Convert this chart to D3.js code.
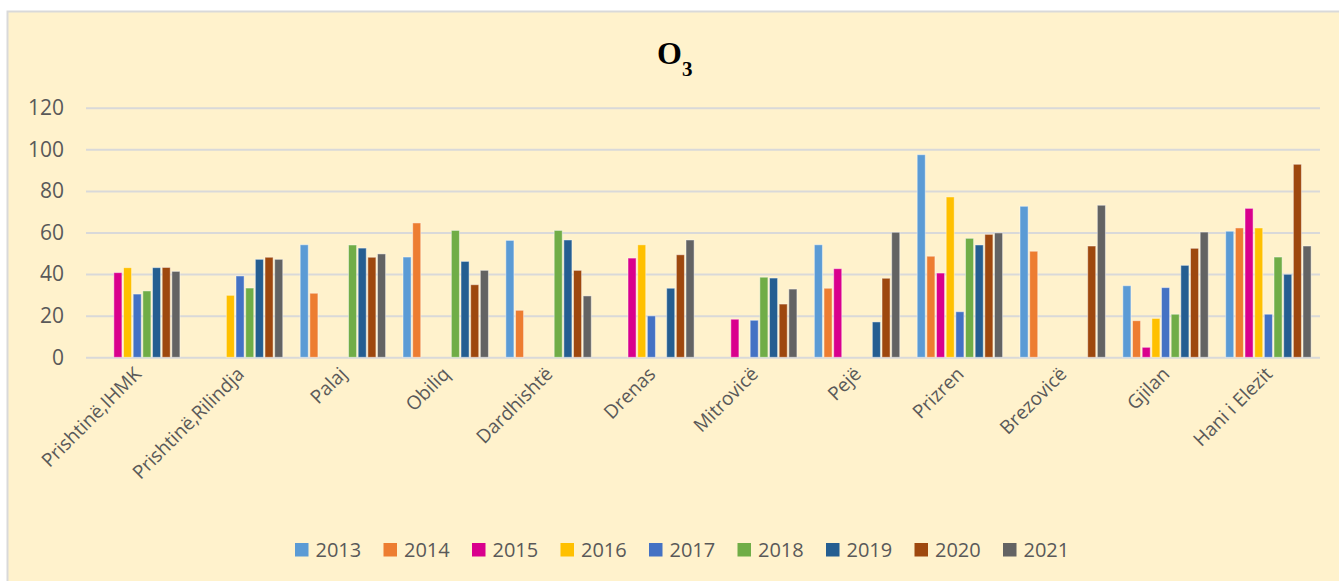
<!DOCTYPE html>
<html>
<head>
<meta charset="utf-8">
<script src="https://cdn.jsdelivr.net/npm/d3@7"></script>
<style>
  html, body { margin: 0; padding: 0; background: #ffffff; }
  svg { display: block; }
</style>
</head>
<body>
<svg id="chart" width="1339" height="581"></svg>
<script>
// ---------- DATA ----------
const categories = ["Prishtinë,IHMK", "Prishtinë,Rilindja", "Palaj", "Obiliq", "Dardhishtë", "Drenas",
                    "Mitrovicë", "Pejë", "Prizren", "Brezovicë", "Gjilan", "Hani i Elezit"];
const years = ["2013", "2014", "2015", "2016", "2017", "2018", "2019", "2020", "2021"];
const colors = ["#5B9BD5", "#ED7D31", "#D9008D", "#FFC000", "#4472C4", "#70AD47", "#255E91", "#9E480E", "#636363"];
// values per year, one entry per category (null = no data)
const v2013 = [null, null, 54.1, 48.2, 56.2, null, null, 54.1, 97.4, 72.6, 34.4, 60.6];
const v2014 = [null, null, 30.8, 64.6, 22.6, null, null, 33.2, 48.6, 51.0, 17.6, 62.2];
const v2015 = [40.7, null, null, null, null, 47.7, 18.3, 42.6, 40.5, null, 4.8, 71.6];
const v2016 = [43.1, 29.8, null, null, null, 54.1, null, null, 77.1, null, 18.7, 62.2];
const v2017 = [30.4, 39.1, null, null, null, 19.9, 17.8, null, 21.9, null, 33.5, 20.7];
const v2018 = [31.9, 33.3, 54.0, 61.0, 61.0, null, 38.5, null, 57.2, null, 20.7, 48.2];
const v2019 = [43.1, 47.1, 52.5, 46.1, 56.4, 33.2, 38.1, 17.0, 54.0, null, 44.2, 39.9];
const v2020 = [43.2, 48.1, 48.1, 34.9, 41.8, 49.3, 25.6, 38.0, 59.1, 53.5, 52.4, 92.8];
const v2021 = [41.3, 47.1, 49.7, 41.8, 29.5, 56.4, 32.8, 60.1, 59.8, 73.1, 60.2, 53.5];
const yTicks = [0, 20, 40, 60, 80, 100, 120];
const seriesValues = [v2013, v2014, v2015, v2016, v2017, v2018, v2019, v2020, v2021];

// ---------- LAYOUT ----------
const svg = d3.select("#chart");
const W = 1339, H = 581;
const plot = { left: 86, right: 1320, top: 107.7, bottom: 357.3 };
const textColor = "#595959";
const font = "'Open Sans', 'Noto Sans', sans-serif";

// chart area background
svg.append("rect")
  .attr("x", 7.5).attr("y", 11.5)
  .attr("width", W + 20).attr("height", H + 20)
  .attr("fill", "#FFF2CC")
  .attr("stroke", "#D9D9D9").attr("stroke-width", 2);

const x0 = d3.scaleBand().domain(categories)
  .range([plot.left, plot.right])
  .paddingInner(0.154).paddingOuter(0.077);
const x1 = d3.scaleBand().domain(years).range([0, x0.bandwidth()]).padding(0);
const y = d3.scaleLinear().domain([0, 120]).range([plot.bottom, plot.top]);

// gridlines
const yAxis = d3.axisLeft(y).tickValues(yTicks).tickSize(-(plot.right - plot.left)).tickPadding(22);
const gy = svg.append("g").attr("transform", `translate(${plot.left},0)`).call(yAxis);
gy.select(".domain").remove();
gy.selectAll(".tick line").attr("stroke", "#D9D9D9").attr("stroke-width", 2);
gy.selectAll(".tick text")
  .attr("fill", textColor)
  .style("font-family", font)
  .style("font-size", "21px");

// bars
const data = [];
categories.forEach((c, ci) => {
  years.forEach((yr, yi) => {
    const v = seriesValues[yi][ci];
    if (v !== null) data.push({ c, yr, yi, v });
  });
});
svg.append("g").selectAll("rect").data(data).join("rect")
  .attr("x", d => x0(d.c) + x1(d.yr) + 0.6)
  .attr("width", x1.bandwidth() - 1.6)
  .attr("y", d => y(d.v))
  .attr("height", d => y(0) - y(d.v))
  .attr("fill", d => colors[d.yi])
  .attr("stroke", "rgba(255,255,255,0.45)")
  .attr("stroke-width", 1);

// category labels (rotated)
const xAxis = d3.axisBottom(x0).tickSize(0).tickPadding(0);
const gx = svg.append("g").attr("transform", `translate(0,${plot.bottom})`).call(xAxis);
gx.select(".domain").remove();
gx.selectAll(".tick text")
  .attr("fill", textColor)
  .style("font-family", font)
  .style("font-size", "19px")
  .attr("text-anchor", "end")
  .attr("dy", null)
  .attr("y", 0)
  .attr("transform", "translate(5,18) rotate(-45)");

// title
const title = svg.append("text")
  .attr("x", 657).attr("y", 64)
  .style("font-family", "'Liberation Serif', 'Times New Roman', serif")
  .style("font-weight", "bold")
  .attr("fill", "#000");
title.append("tspan").style("font-size", "32px").text("O");
title.append("tspan").style("font-size", "21px").attr("dy", 12).text("3");

// legend
const legend = svg.append("g");
years.forEach((yr, i) => {
  const lx = 295 + i * 88.5;
  legend.append("rect")
    .attr("x", lx).attr("y", 543)
    .attr("width", 13.5).attr("height", 13.5)
    .attr("fill", colors[i]);
  legend.append("text")
    .attr("x", lx + 20.5).attr("y", 556.5)
    .attr("fill", textColor)
    .style("font-family", font)
    .style("font-size", "20px")
    .text(yr);
});
</script>
</body>
</html>
